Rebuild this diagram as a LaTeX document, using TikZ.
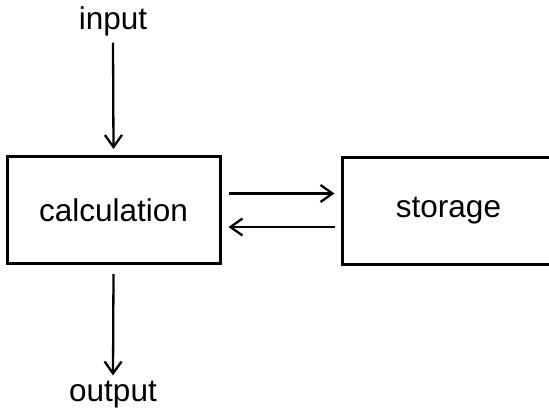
\documentclass[tikz,border=0pt]{standalone}
\usepackage{fontspec}
\setmainfont{Liberation Sans}
\usetikzlibrary{arrows.meta}
\begin{document}
\begin{tikzpicture}[x=1pt,y=-1pt,
  blk/.style={draw,line width=3pt,minimum width=213pt,minimum height=107pt,inner sep=0pt,font=\fontsize{31.5}{36}\selectfont},
  lbl/.style={inner sep=0pt,font=\fontsize{31.5}{36}\selectfont},
  arr/.style={line width=2.3pt,-{Straight Barb[length=12pt,width=17pt,line width=2.3pt]}}]
\fill[white] (0,0) rectangle (549,415);
\useasboundingbox (0,0) rectangle (549,415);
\begin{scope}
\clip (0,0) rectangle (549,415);
\node[blk] (calc) at (113.5,210) {calculation};
\node[blk] (stor) at (448.5,210.5) {storage};
\node[lbl,anchor=base] (in) at (113,29) {input};
\node[lbl,anchor=base] (out) at (113,401) {output};
\draw[arr] ([yshift=-7pt]in.south) -- ([yshift=6pt]calc.north);
\draw[arr] ([yshift=-9pt]calc.south) -- ([yshift=5pt]out.north);
\draw[arr] ([xshift=7pt,yshift=16.5pt]calc.east) -- ([xshift=-6pt,yshift=16.5pt]calc.east -| stor.west);
\draw[arr] ([xshift=-6pt,yshift=-17pt]calc.east -| stor.west) -- ([xshift=7pt,yshift=-17pt]calc.east);
\end{scope}
\end{tikzpicture}
\end{document}
